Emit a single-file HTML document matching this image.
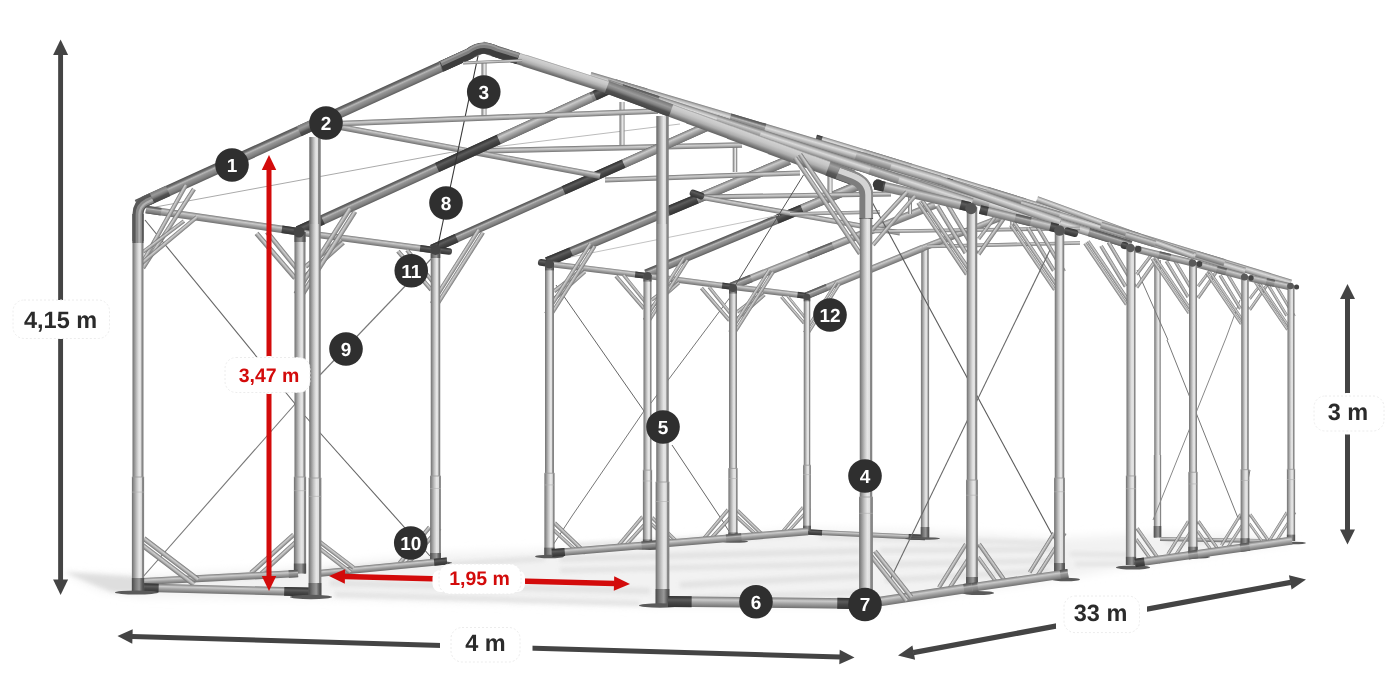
<!DOCTYPE html>
<html><head><meta charset="utf-8"><title>Tent frame dimensions</title>
<style>
html,body{margin:0;padding:0;background:#fff;}
body{width:1400px;height:700px;overflow:hidden;font-family:"Liberation Sans",sans-serif;}
svg{display:block}
svg text{text-rendering:geometricPrecision;font-family:"Liberation Sans",sans-serif;font-weight:bold;}
</style></head><body>
<svg width="1400" height="700" viewBox="0 0 1400 700">
<defs>
<linearGradient id="gD" x1="0" y1="0" x2="0" y2="1"><stop offset="0" stop-color="#505050"/><stop offset=".2" stop-color="#707070"/><stop offset=".36" stop-color="#b6b6b6"/><stop offset=".5" stop-color="#969696"/><stop offset=".8" stop-color="#7c7c7c"/><stop offset="1" stop-color="#5c5c5c"/></linearGradient>
<linearGradient id="gM" x1="0" y1="0" x2="0" y2="1"><stop offset="0" stop-color="#7a7a7a"/><stop offset=".3" stop-color="#cacaca"/><stop offset=".55" stop-color="#a6a6a6"/><stop offset="1" stop-color="#707070"/></linearGradient>
<linearGradient id="gL" x1="0" y1="0" x2="0" y2="1"><stop offset="0" stop-color="#7c7c7c"/><stop offset=".15" stop-color="#a8a8a8"/><stop offset=".36" stop-color="#e6e6e6"/><stop offset=".6" stop-color="#c6c6c6"/><stop offset=".85" stop-color="#9c9c9c"/><stop offset="1" stop-color="#747474"/></linearGradient>
<linearGradient id="gB" x1="0" y1="0" x2="0" y2="1"><stop offset="0" stop-color="#6e6e6e"/><stop offset=".35" stop-color="#cecece"/><stop offset=".6" stop-color="#b4b4b4"/><stop offset="1" stop-color="#727272"/></linearGradient>
<linearGradient id="gFR" x1="0" y1="0" x2="0" y2="1"><stop offset="0" stop-color="#989898"/><stop offset=".1" stop-color="#d0d0d0"/><stop offset=".35" stop-color="#c6c6c6"/><stop offset=".6" stop-color="#adadad"/><stop offset=".75" stop-color="#8c8c8c"/><stop offset=".9" stop-color="#707070"/><stop offset="1" stop-color="#666"/></linearGradient>
<linearGradient id="gFS" x1="0" y1="0" x2="0" y2="1"><stop offset="0" stop-color="#767676"/><stop offset=".3" stop-color="#9a9a9a"/><stop offset=".5" stop-color="#808080"/><stop offset=".7" stop-color="#525252"/><stop offset="1" stop-color="#454545"/></linearGradient>
<linearGradient id="gFS2" x1="0" y1="0" x2="0" y2="1"><stop offset="0" stop-color="#777"/><stop offset=".25" stop-color="#a0a0a0"/><stop offset=".5" stop-color="#858585"/><stop offset=".7" stop-color="#5a5a5a"/><stop offset="1" stop-color="#4c4c4c"/></linearGradient>
<linearGradient id="gU" x1="0" y1="0" x2="0" y2="1"><stop offset="0" stop-color="#7a7a7a"/><stop offset=".18" stop-color="#b4b4b4"/><stop offset=".4" stop-color="#dadada"/><stop offset=".65" stop-color="#b8b8b8"/><stop offset=".88" stop-color="#8e8e8e"/><stop offset="1" stop-color="#6c6c6c"/></linearGradient>
<linearGradient id="gS" x1="0" y1="0" x2="0" y2="1"><stop offset="0" stop-color="#2e2e2e"/><stop offset=".35" stop-color="#5c5c5c"/><stop offset=".6" stop-color="#474747"/><stop offset="1" stop-color="#333"/></linearGradient>
<linearGradient id="gP" x1="0" y1="0" x2="1" y2="0"><stop offset="0" stop-color="#6e6e6e"/><stop offset=".14" stop-color="#8e8e8e"/><stop offset=".4" stop-color="#c4c4c4"/><stop offset=".6" stop-color="#e6e6e6"/><stop offset=".78" stop-color="#dedede"/><stop offset=".84" stop-color="#8c8c8c"/><stop offset="1" stop-color="#7e7e7e"/></linearGradient>
<linearGradient id="gPd" x1="0" y1="0" x2="1" y2="0"><stop offset="0" stop-color="#4a4a4a"/><stop offset=".3" stop-color="#777"/><stop offset=".6" stop-color="#999"/><stop offset=".85" stop-color="#5a5a5a"/><stop offset="1" stop-color="#4a4a4a"/></linearGradient>
<filter id="blur" x="-20%" y="-50%" width="140%" height="200%"><feGaussianBlur stdDeviation="5"/></filter>
<filter id="blur2" x="-20%" y="-100%" width="140%" height="300%"><feGaussianBlur stdDeviation="2.2"/></filter>
</defs>
<g filter="url(#blur)">
<polygon points="64,573 138,576 300,568 436,554 548,550 808,529 925,531 1060,538 1160,533 1290,536 1292,543 1131,566 1068,578 870,606 660,606 320,598 140,597 100,590" fill="#f2f2f2"/>
</g>
<g filter="url(#blur2)" opacity=".9">
<polygon points="64,572 136,577 139,593 112,592" fill="#dcdcdc"/>
<polygon points="150,579 300,571 300,576 150,584" fill="#e0e0e0"/>
<polygon points="325,569 440,558 440,563 325,574" fill="#e0e0e0"/>
<polygon points="330,580 650,588 650,594 330,586" fill="#e0e0e0"/>
<polygon points="335,592 640,601 640,606 335,597" fill="#e0e0e0"/>
<polygon points="450,562 545,556 545,561 450,567" fill="#e0e0e0"/>
<polygon points="560,556 860,548 860,554 560,562" fill="#e0e0e0"/>
<polygon points="560,568 860,561 860,566 560,573" fill="#e0e0e0"/>
<polygon points="680,582 862,573 862,579 680,588" fill="#e0e0e0"/>
<polygon points="690,596 860,590 860,595 690,601" fill="#e0e0e0"/>
<polygon points="575,543 800,533 800,537 575,547" fill="#e0e0e0"/>
<polygon points="880,548 1055,547 1055,552 880,553" fill="#e0e0e0"/>
<polygon points="880,562 1055,558 1055,563 880,567" fill="#e0e0e0"/>
<polygon points="885,578 1050,568 1050,573 885,583" fill="#e0e0e0"/>
<polygon points="820,535 1050,541 1050,545 820,539" fill="#e0e0e0"/>
<polygon points="1070,552 1130,553 1130,557 1070,556" fill="#e0e0e0"/>
<polygon points="1075,562 1125,562 1125,566 1075,566" fill="#e0e0e0"/>
<polygon points="1165,541 1285,540 1285,543 1165,544" fill="#e0e0e0"/>
</g>
<rect x="1154.25" y="260" width="6.5" height="277.5" fill="url(#gP)"/>
<rect x="1153.85" y="455" width="7.3" height="82.5" fill="url(#gP)"/>
<rect x="1153.75" y="526" width="7.5" height="11.5" fill="url(#gPd)"/>
<rect y="-2" width="130.02" height="4" rx="0" fill="url(#gM)" transform="translate(1160 539) rotate(1.1)"/>
<line x1="1167" y1="340" x2="1238" y2="518" stroke="#777" stroke-width="1"/>
<line x1="1226" y1="338" x2="1153" y2="520" stroke="#888" stroke-width="1"/>
<line x1="1137" y1="270" x2="1168" y2="340" stroke="#777" stroke-width="1"/>
<line x1="1240" y1="300" x2="1226" y2="338" stroke="#888" stroke-width="1"/>
<line x1="1250" y1="470" x2="1240" y2="520" stroke="#777" stroke-width="1"/>
<rect y="-3.5" width="496.64" height="7" rx="0" fill="url(#gU)" transform="translate(816 138) rotate(16.98)"/>
<rect y="-3.5" width="312.25" height="7" rx="0" fill="url(#gU)" transform="translate(946 181) rotate(16.75)"/>
<rect y="-3" width="166.09" height="6" rx="0" fill="url(#gU)" transform="translate(1037 199) rotate(20.07)"/>
<rect y="-4.25" width="315.04" height="8.5" rx="0" fill="url(#gU)" transform="translate(830 152) rotate(17.17)"/>
<rect y="-3.5" width="5.96" height="7" rx="0" fill="url(#gS)" transform="translate(816 138) rotate(16.98)"/>
<rect y="-3.5" width="49.66" height="7" rx="0" fill="url(#gM)" transform="translate(863.5 152.5) rotate(16.98)"/>
<rect y="-3.5" width="39.73" height="7" rx="0" fill="url(#gM)" transform="translate(987 190.2) rotate(16.98)"/>
<rect y="-3.5" width="39.73" height="7" rx="0" fill="url(#gM)" transform="translate(1101 225) rotate(16.98)"/>
<rect y="-3.5" width="29.8" height="7" rx="0" fill="url(#gM)" transform="translate(1196 254) rotate(16.98)"/>
<rect y="-3.5" width="6.25" height="7" rx="0" fill="url(#gS)" transform="translate(946 181) rotate(16.75)"/>
<rect y="-3.5" width="40.59" height="7" rx="0" fill="url(#gM)" transform="translate(1020.75 203.5) rotate(16.75)"/>
<rect y="-3.5" width="31.23" height="7" rx="0" fill="url(#gM)" transform="translate(1125.4 235) rotate(16.75)"/>
<rect y="-4.25" width="37.8" height="8.5" rx="0" fill="url(#gM)" transform="translate(920.3 179.9) rotate(17.17)"/>
<rect y="-4.25" width="44.11" height="8.5" rx="0" fill="url(#gD)" transform="translate(1088.86 231.98) rotate(17.17)"/>
<rect y="-1.68" width="74.17" height="3.35" rx="0" fill="url(#gB)" transform="translate(1084.8 243.31) rotate(55.83)"/>
<rect y="-1.68" width="74.17" height="3.35" rx="0" fill="url(#gB)" transform="translate(1088.06 241.09) rotate(55.83)"/>
<rect y="-1.87" width="47.42" height="3.75" rx="0" fill="url(#gB)" transform="translate(1101 245.89) rotate(58.75)"/>
<rect y="-1.87" width="52.46" height="3.75" rx="0" fill="url(#gB)" transform="translate(1108.46 242.2) rotate(59.24)"/>
<rect y="-1.77" width="40.43" height="3.55" rx="0" fill="url(#gB)" transform="translate(1136.66 287.54) rotate(-54.93)"/>
<rect y="-1.58" width="24.72" height="3.15" rx="0" fill="url(#gB)" transform="translate(1136.66 274.43) rotate(-52.89)"/>
<rect y="-1.49" width="65.93" height="2.98" rx="0" fill="url(#gB)" transform="translate(1151.93 258.72) rotate(55.83)"/>
<rect y="-1.49" width="65.93" height="2.98" rx="0" fill="url(#gB)" transform="translate(1154.83 256.75) rotate(55.83)"/>
<rect y="-1.66" width="42.15" height="3.33" rx="0" fill="url(#gB)" transform="translate(1166.33 261.01) rotate(58.75)"/>
<rect y="-1.66" width="46.63" height="3.33" rx="0" fill="url(#gB)" transform="translate(1172.96 257.73) rotate(59.24)"/>
<rect y="-1.58" width="35.93" height="3.15" rx="0" fill="url(#gB)" transform="translate(1198.03 298.04) rotate(-54.93)"/>
<rect y="-1.4" width="21.97" height="2.8" rx="0" fill="url(#gB)" transform="translate(1198.03 286.38) rotate(-52.89)"/>
<rect y="-1.4" width="61.81" height="2.79" rx="0" fill="url(#gB)" transform="translate(1206.5 272.92) rotate(55.83)"/>
<rect y="-1.4" width="61.81" height="2.79" rx="0" fill="url(#gB)" transform="translate(1209.22 271.08) rotate(55.83)"/>
<rect y="-1.56" width="39.52" height="3.12" rx="0" fill="url(#gB)" transform="translate(1220 275.07) rotate(58.75)"/>
<rect y="-1.56" width="43.72" height="3.12" rx="0" fill="url(#gB)" transform="translate(1226.21 272) rotate(59.24)"/>
<rect y="-1.48" width="33.69" height="2.96" rx="0" fill="url(#gB)" transform="translate(1249.71 309.79) rotate(-54.93)"/>
<rect y="-1.31" width="20.6" height="2.63" rx="0" fill="url(#gB)" transform="translate(1249.71 298.86) rotate(-52.89)"/>
<rect y="-1.3" width="57.69" height="2.61" rx="0" fill="url(#gB)" transform="translate(1255.06 282.13) rotate(55.83)"/>
<rect y="-1.3" width="57.69" height="2.61" rx="0" fill="url(#gB)" transform="translate(1257.6 280.41) rotate(55.83)"/>
<rect y="-1.46" width="36.88" height="2.91" rx="0" fill="url(#gB)" transform="translate(1267.67 284.13) rotate(58.75)"/>
<rect y="-1.46" width="40.81" height="2.91" rx="0" fill="url(#gB)" transform="translate(1273.47 281.27) rotate(59.24)"/>
<rect y="-3.5" width="58.64" height="7" rx="0" fill="url(#gM)" transform="translate(1135 248.97) rotate(13.6)"/>
<rect y="-3.5" width="11.73" height="7" rx="0" fill="url(#gD)" transform="translate(1158.94 254.76) rotate(13.6)"/>
<rect y="-3.5" width="48.67" height="7" rx="0" fill="url(#gM)" transform="translate(1197 264.08) rotate(15.07)"/>
<rect y="-3.5" width="9.73" height="7" rx="0" fill="url(#gD)" transform="translate(1216.74 269.39) rotate(15.07)"/>
<rect y="-3.5" width="41.96" height="7" rx="0" fill="url(#gM)" transform="translate(1249 277.87) rotate(12.26)"/>
<rect y="-3.5" width="8.39" height="7" rx="0" fill="url(#gD)" transform="translate(1266.22 281.61) rotate(12.26)"/>
<rect y="-3.5" width="7.28" height="7" rx="3" fill="url(#gS)" transform="translate(1121 244.5) rotate(15.95)"/>
<rect y="-1.77" width="41.85" height="3.55" rx="0" fill="url(#gB)" transform="translate(1137 528.14) rotate(55.01)"/>
<rect y="-1.58" width="26.41" height="3.15" rx="0" fill="url(#gB)" transform="translate(1136.14 539.29) rotate(54.25)"/>
<rect x="1126.5" y="247" width="9" height="318" fill="url(#gP)"/>
<rect x="1125.9" y="475.96" width="10.2" height="89.04" fill="url(#gP)"/>
<line x1="1125.9" y1="475.96" x2="1136.1" y2="475.96" stroke="#9a9a9a" stroke-width="0.8"/>
<line x1="1125.9" y1="488.68" x2="1136.1" y2="488.68" stroke="#b0b0b0" stroke-width="0.6"/>
<rect x="1125.9" y="556.82" width="10.2" height="8.18" fill="url(#gPd)"/>
<circle cx="1130.5" cy="248" r="4.23" fill="#5a5a5a"/>
<circle cx="1138.2" cy="249" r="3.24" fill="#444"/>
<rect y="-1.58" width="39.01" height="3.15" rx="0" fill="url(#gB)" transform="translate(1167.86 554.38) rotate(-58.17)"/>
<rect y="-1.58" width="43.54" height="3.15" rx="0" fill="url(#gB)" transform="translate(1173.95 557.81) rotate(-57.14)"/>
<rect y="-1.58" width="37.2" height="3.15" rx="0" fill="url(#gB)" transform="translate(1198.33 521.24) rotate(55.01)"/>
<rect y="-1.4" width="23.47" height="2.8" rx="0" fill="url(#gB)" transform="translate(1197.57 531.14) rotate(54.25)"/>
<rect x="1189" y="262" width="8" height="292" fill="url(#gP)"/>
<rect x="1188.4" y="472.24" width="9.2" height="81.76" fill="url(#gP)"/>
<line x1="1188.4" y1="472.24" x2="1197.6" y2="472.24" stroke="#9a9a9a" stroke-width="0.8"/>
<line x1="1188.4" y1="483.92" x2="1197.6" y2="483.92" stroke="#b0b0b0" stroke-width="0.6"/>
<rect x="1188.4" y="546.73" width="9.2" height="7.27" fill="url(#gPd)"/>
<circle cx="1192.5" cy="263" r="3.76" fill="#5a5a5a"/>
<circle cx="1199.4" cy="264" r="2.88" fill="#444"/>
<rect y="-1.48" width="36.57" height="2.96" rx="0" fill="url(#gB)" transform="translate(1221.43 545.36) rotate(-58.17)"/>
<rect y="-1.48" width="40.81" height="2.96" rx="0" fill="url(#gB)" transform="translate(1227.14 548.57) rotate(-57.14)"/>
<rect y="-1.48" width="34.88" height="2.96" rx="0" fill="url(#gB)" transform="translate(1250 514.29) rotate(55.01)"/>
<rect y="-1.31" width="22" height="2.63" rx="0" fill="url(#gB)" transform="translate(1249.29 523.57) rotate(54.25)"/>
<rect x="1241.25" y="276" width="7.5" height="269" fill="url(#gP)"/>
<rect x="1240.65" y="469.68" width="8.7" height="75.32" fill="url(#gP)"/>
<line x1="1240.65" y1="469.68" x2="1249.35" y2="469.68" stroke="#9a9a9a" stroke-width="0.8"/>
<line x1="1240.65" y1="480.44" x2="1249.35" y2="480.44" stroke="#b0b0b0" stroke-width="0.6"/>
<rect x="1240.65" y="538.18" width="8.7" height="6.82" fill="url(#gPd)"/>
<circle cx="1244.5" cy="277" r="3.52" fill="#5a5a5a"/>
<circle cx="1251" cy="278" r="2.7" fill="#444"/>
<rect y="-1.38" width="34.13" height="2.76" rx="0" fill="url(#gB)" transform="translate(1269 541.33) rotate(-58.17)"/>
<rect y="-1.38" width="38.09" height="2.76" rx="0" fill="url(#gB)" transform="translate(1274.33 544.33) rotate(-57.14)"/>
<rect x="1287.5" y="285" width="7" height="256" fill="url(#gP)"/>
<rect x="1286.9" y="469.32" width="8.2" height="71.68" fill="url(#gP)"/>
<line x1="1286.9" y1="469.32" x2="1295.1" y2="469.32" stroke="#9a9a9a" stroke-width="0.8"/>
<line x1="1286.9" y1="479.56" x2="1295.1" y2="479.56" stroke="#b0b0b0" stroke-width="0.6"/>
<rect x="1286.9" y="534.64" width="8.2" height="6.36" fill="url(#gPd)"/>
<circle cx="1290.5" cy="286" r="3.29" fill="#5a5a5a"/>
<circle cx="1296.6" cy="287" r="2.52" fill="#444"/>
<ellipse cx="1133" cy="567.5" rx="17" ry="2" fill="#5a5a5a"/>
<ellipse cx="1195" cy="557" rx="15" ry="1.6" fill="#5a5a5a"/>
<ellipse cx="1248" cy="548" rx="14" ry="1.4" fill="#5a5a5a"/>
<ellipse cx="1294" cy="543" rx="12" ry="1.3" fill="#5a5a5a"/>
<rect y="-4" width="158.6" height="8" rx="0" fill="url(#gM)" transform="translate(1135 563) rotate(-8.16)"/>
<rect y="-4.25" width="9.52" height="8.5" rx="0" fill="url(#gS)" transform="translate(1135 563) rotate(-8.16)"/>
<rect y="-4.2" width="9.52" height="8.4" rx="0" fill="url(#gD)" transform="translate(1188.38 555.35) rotate(-8.16)"/>
<rect y="-4.2" width="9.52" height="8.4" rx="0" fill="url(#gD)" transform="translate(1240.19 547.92) rotate(-8.16)"/>
<rect y="-2.5" width="117.13" height="5" rx="0" fill="url(#gM)" transform="translate(808 532) rotate(2.69)"/>
<rect y="-2.75" width="14.06" height="5.5" rx="0" fill="url(#gS)" transform="translate(808 532) rotate(2.69)"/>
<rect y="-2.75" width="16.4" height="5.5" rx="0" fill="url(#gS)" transform="translate(908.62 536.73) rotate(2.69)"/>
<rect x="921.25" y="246" width="7.5" height="291.5" fill="url(#gP)"/>
<rect x="920.9" y="300" width="8.2" height="237.5" fill="url(#gP)"/>
<rect x="920.75" y="527" width="8.5" height="11" fill="url(#gPd)"/>
<ellipse cx="922.5" cy="538.5" rx="17.5" ry="1.3" fill="#5a5a5a"/>
<rect y="-3.5" width="126.46" height="7" rx="0" fill="url(#gM)" transform="translate(806 296) rotate(-22.31)"/>
<rect y="-3.5" width="22.76" height="7" rx="0" fill="url(#gD)" transform="translate(806 296) rotate(-22.31)"/>
<rect y="-3.25" width="82.64" height="6.5" rx="0" fill="url(#gM)" transform="translate(923 248) rotate(-21.29)"/>
<rect y="-3.9" width="219.68" height="7.8" rx="0" fill="url(#gM)" transform="translate(731 286.5) rotate(-21.78)"/>
<rect y="-3.9" width="21.97" height="7.8" rx="0" fill="url(#gD)" transform="translate(731 286.5) rotate(-21.78)"/>
<rect y="-3.9" width="26.36" height="7.8" rx="0" fill="url(#gD)" transform="translate(808.52 255.53) rotate(-21.78)"/>
<rect y="-4.5" width="228.62" height="9" rx="0" fill="url(#gD)" transform="translate(646 274) rotate(-22.64)"/>
<rect y="-4.5" width="27.43" height="9" rx="0" fill="url(#gS)" transform="translate(776.82 219.44) rotate(-22.64)"/>
<rect y="-4.5" width="59.44" height="9" rx="0" fill="url(#gM)" transform="translate(802.14 208.88) rotate(-22.64)"/>
<rect y="-4.75" width="262.62" height="9.5" rx="0" fill="url(#gD)" transform="translate(547 262) rotate(-22.85)"/>
<rect y="-4.75" width="26.26" height="9.5" rx="0" fill="url(#gS)" transform="translate(547 262) rotate(-22.85)"/>
<rect y="-4.75" width="31.51" height="9.5" rx="0" fill="url(#gS)" transform="translate(668 211) rotate(-22.85)"/>
<rect y="-4.75" width="99.79" height="9.5" rx="0" fill="url(#gM)" transform="translate(697.04 198.76) rotate(-22.85)"/>
<rect y="-2.4" width="191.02" height="4.8" rx="0" fill="url(#gB)" transform="translate(700 197) rotate(-0.9)"/>
<rect y="-2.6" width="203.21" height="5.2" rx="0" fill="url(#gB)" transform="translate(700 197) rotate(10.2)"/>
<rect y="-1.8" width="90.02" height="3.6" rx="0" fill="url(#gB)" transform="translate(790 214) rotate(-1.27)"/>
<rect y="-3.5" width="14.87" height="7" rx="3" fill="url(#gS)" transform="translate(690 192) rotate(19.65)"/>
<rect y="-1.8" width="208.02" height="3.6" rx="0" fill="url(#gB)" transform="translate(872 231.5) rotate(-0.83)"/>
<rect y="-1.8" width="153.04" height="3.6" rx="0" fill="url(#gB)" transform="translate(927 246.5) rotate(-1.31)"/>
<rect x="908" y="197" width="4" height="17" fill="url(#gP)"/>
<rect x="827.5" y="175" width="5" height="18" fill="url(#gP)"/>
<rect x="1010.25" y="214" width="3.5" height="15" fill="url(#gP)"/>
<line x1="571" y1="257" x2="780" y2="215" stroke="#bbb" stroke-width="0.9"/>
<line x1="803.5" y1="175" x2="733" y2="289" stroke="#555" stroke-width="1"/>
<rect y="-3.5" width="11.1" height="7" rx="3" fill="url(#gS)" transform="translate(538 262) rotate(7.77)"/>
<rect y="-3" width="95.71" height="6" rx="0" fill="url(#gM)" transform="translate(551.5 264.24) rotate(6.98)"/>
<rect y="-3" width="11.49" height="6" rx="0" fill="url(#gS)" transform="translate(635.1 274.48) rotate(6.98)"/>
<rect y="-3" width="83.18" height="6" rx="0" fill="url(#gM)" transform="translate(649.5 276.26) rotate(7.33)"/>
<rect y="-3" width="9.98" height="6" rx="0" fill="url(#gS)" transform="translate(722.1 285.6) rotate(7.33)"/>
<rect y="-3" width="71.52" height="6" rx="0" fill="url(#gM)" transform="translate(735 287.24) rotate(6.93)"/>
<rect y="-3" width="8.58" height="6" rx="0" fill="url(#gS)" transform="translate(797.48 294.84) rotate(6.93)"/>
<line x1="556" y1="285" x2="644" y2="411" stroke="#666" stroke-width="1"/>
<line x1="644" y1="411" x2="572" y2="516" stroke="#777" stroke-width="1"/>
<line x1="572" y1="516" x2="553" y2="545" stroke="#777" stroke-width="1"/>
<line x1="731" y1="296" x2="645" y2="411" stroke="#777" stroke-width="1"/>
<line x1="672" y1="445" x2="722" y2="520" stroke="#666" stroke-width="1"/>
<line x1="722" y1="520" x2="730" y2="533" stroke="#666" stroke-width="1"/>
<rect y="-1.95" width="36.64" height="3.91" rx="0" fill="url(#gB)" transform="translate(554 291.4) rotate(-37.68)"/>
<rect y="-1.84" width="41.31" height="3.68" rx="0" fill="url(#gB)" transform="translate(554 299) rotate(-41.37)"/>
<rect y="-1.95" width="82.95" height="3.91" rx="0" fill="url(#gB)" transform="translate(550.03 316.29) rotate(-57.56)"/>
<rect y="-1.95" width="82.95" height="3.91" rx="0" fill="url(#gB)" transform="translate(545.97 313.71) rotate(-57.56)"/>
<rect y="-2.01" width="43.14" height="4.02" rx="0" fill="url(#gB)" transform="translate(554.5 523) rotate(44.06)"/>
<rect y="-1.84" width="31.14" height="3.68" rx="0" fill="url(#gB)" transform="translate(553.5 530) rotate(42.4)"/>
<rect x="545" y="263" width="9" height="292" fill="url(#gP)"/>
<rect x="544.4" y="473.24" width="10.2" height="81.76" fill="url(#gP)"/>
<line x1="544.4" y1="473.24" x2="554.6" y2="473.24" stroke="#9a9a9a" stroke-width="0.8"/>
<line x1="544.4" y1="484.92" x2="554.6" y2="484.92" stroke="#b0b0b0" stroke-width="0.6"/>
<rect x="545" y="263" width="9" height="7.36" fill="url(#gPd)"/>
<rect x="544.4" y="547.64" width="10.2" height="7.36" fill="url(#gPd)"/>
<circle cx="549.5" cy="264" r="4.5" fill="#4a4a4a"/>
<rect y="-1.79" width="42.98" height="3.58" rx="0" fill="url(#gB)" transform="translate(615.86 275.98) rotate(49.19)"/>
<rect y="-1.69" width="36.59" height="3.37" rx="0" fill="url(#gB)" transform="translate(623.5 275) rotate(51.01)"/>
<rect y="-1.74" width="32.57" height="3.48" rx="0" fill="url(#gB)" transform="translate(651.5 300.24) rotate(-37.68)"/>
<rect y="-1.64" width="36.72" height="3.27" rx="0" fill="url(#gB)" transform="translate(651.5 307) rotate(-41.37)"/>
<rect y="-1.74" width="73.73" height="3.48" rx="0" fill="url(#gB)" transform="translate(647.97 322.37) rotate(-57.56)"/>
<rect y="-1.74" width="73.73" height="3.48" rx="0" fill="url(#gB)" transform="translate(644.37 320.08) rotate(-57.56)"/>
<rect y="-1.79" width="39.44" height="3.58" rx="0" fill="url(#gB)" transform="translate(617.28 546.89) rotate(-50.03)"/>
<rect y="-1.79" width="42.15" height="3.58" rx="0" fill="url(#gB)" transform="translate(622.61 548.67) rotate(-47.56)"/>
<rect y="-1.79" width="38.35" height="3.58" rx="0" fill="url(#gB)" transform="translate(651.94 517.56) rotate(44.06)"/>
<rect y="-1.64" width="27.68" height="3.27" rx="0" fill="url(#gB)" transform="translate(651.06 523.78) rotate(42.4)"/>
<rect x="643.5" y="275" width="8" height="271" fill="url(#gP)"/>
<rect x="642.9" y="470.12" width="9.2" height="75.88" fill="url(#gP)"/>
<line x1="642.9" y1="470.12" x2="652.1" y2="470.12" stroke="#9a9a9a" stroke-width="0.8"/>
<line x1="642.9" y1="480.96" x2="652.1" y2="480.96" stroke="#b0b0b0" stroke-width="0.6"/>
<rect x="643.5" y="275" width="8" height="6.55" fill="url(#gPd)"/>
<rect x="642.9" y="539.45" width="9.2" height="6.55" fill="url(#gPd)"/>
<circle cx="647.5" cy="276" r="4" fill="#4a4a4a"/>
<rect y="-1.79" width="42.98" height="3.58" rx="0" fill="url(#gB)" transform="translate(701.36 287.98) rotate(49.19)"/>
<rect y="-1.69" width="36.59" height="3.37" rx="0" fill="url(#gB)" transform="translate(709 287) rotate(51.01)"/>
<rect y="-1.74" width="32.57" height="3.48" rx="0" fill="url(#gB)" transform="translate(737 312.24) rotate(-37.68)"/>
<rect y="-1.64" width="36.72" height="3.27" rx="0" fill="url(#gB)" transform="translate(737 319) rotate(-41.37)"/>
<rect y="-1.74" width="73.73" height="3.48" rx="0" fill="url(#gB)" transform="translate(733.47 334.37) rotate(-57.56)"/>
<rect y="-1.74" width="73.73" height="3.48" rx="0" fill="url(#gB)" transform="translate(729.87 332.08) rotate(-57.56)"/>
<rect y="-1.79" width="39.44" height="3.58" rx="0" fill="url(#gB)" transform="translate(702.78 539.89) rotate(-50.03)"/>
<rect y="-1.79" width="42.15" height="3.58" rx="0" fill="url(#gB)" transform="translate(708.11 541.67) rotate(-47.56)"/>
<rect y="-1.79" width="38.35" height="3.58" rx="0" fill="url(#gB)" transform="translate(737.44 510.56) rotate(44.06)"/>
<rect y="-1.64" width="27.68" height="3.27" rx="0" fill="url(#gB)" transform="translate(736.56 516.78) rotate(42.4)"/>
<rect x="729" y="287" width="8" height="252" fill="url(#gP)"/>
<rect x="728.4" y="468.44" width="9.2" height="70.56" fill="url(#gP)"/>
<line x1="728.4" y1="468.44" x2="737.6" y2="468.44" stroke="#9a9a9a" stroke-width="0.8"/>
<line x1="728.4" y1="478.52" x2="737.6" y2="478.52" stroke="#b0b0b0" stroke-width="0.6"/>
<rect x="729" y="287" width="8" height="6.55" fill="url(#gPd)"/>
<rect x="728.4" y="532.45" width="9.2" height="6.55" fill="url(#gPd)"/>
<circle cx="733" cy="288" r="4" fill="#4a4a4a"/>
<rect y="-1.45" width="34.92" height="2.91" rx="0" fill="url(#gB)" transform="translate(781.29 296.79) rotate(49.19)"/>
<rect y="-1.37" width="29.73" height="2.74" rx="0" fill="url(#gB)" transform="translate(787.5 296) rotate(51.01)"/>
<rect y="-1.41" width="59.91" height="2.82" rx="0" fill="url(#gB)" transform="translate(807.38 334.49) rotate(-57.56)"/>
<rect y="-1.41" width="59.91" height="2.82" rx="0" fill="url(#gB)" transform="translate(804.45 332.63) rotate(-57.56)"/>
<rect y="-1.45" width="32.04" height="2.91" rx="0" fill="url(#gB)" transform="translate(782.44 531.72) rotate(-50.03)"/>
<rect y="-1.45" width="34.25" height="2.91" rx="0" fill="url(#gB)" transform="translate(786.78 533.17) rotate(-47.56)"/>
<rect x="803.75" y="296" width="6.5" height="235" fill="url(#gP)"/>
<rect x="803.15" y="465.2" width="7.7" height="65.8" fill="url(#gP)"/>
<line x1="803.15" y1="465.2" x2="810.85" y2="465.2" stroke="#9a9a9a" stroke-width="0.8"/>
<line x1="803.15" y1="474.6" x2="810.85" y2="474.6" stroke="#b0b0b0" stroke-width="0.6"/>
<rect x="803.75" y="296" width="6.5" height="5.32" fill="url(#gPd)"/>
<rect x="803.15" y="525.68" width="7.7" height="5.32" fill="url(#gPd)"/>
<circle cx="807" cy="297" r="3.25" fill="#4a4a4a"/>
<ellipse cx="549.5" cy="556.5" rx="14.5" ry="1.8" fill="#5a5a5a"/>
<ellipse cx="650" cy="548.5" rx="14" ry="1.5" fill="#5a5a5a"/>
<ellipse cx="735" cy="541.5" rx="13" ry="1.3" fill="#5a5a5a"/>
<rect y="-3.7" width="256.9" height="7.4" rx="0" fill="url(#gM)" transform="translate(552 553) rotate(-4.8)"/>
<rect y="-4" width="12.85" height="8" rx="0" fill="url(#gS)" transform="translate(552 553) rotate(-4.8)"/>
<rect y="-3.9" width="15.41" height="7.8" rx="0" fill="url(#gD)" transform="translate(641.6 545.48) rotate(-4.8)"/>
<rect y="-3.9" width="15.41" height="7.8" rx="0" fill="url(#gD)" transform="translate(726.08 538.38) rotate(-4.8)"/>
<line x1="150" y1="208" x2="450" y2="152.5" stroke="#aaa" stroke-width="1"/>
<line x1="450" y1="152.5" x2="680" y2="124" stroke="#bbb" stroke-width="1"/>
<rect x="732.75" y="147" width="4.5" height="25" fill="url(#gP)"/>
<rect y="-2.5" width="195.13" height="5" rx="0" fill="url(#gB)" transform="translate(605 180) rotate(-2.06)"/>
<rect x="619.5" y="102" width="5" height="45" fill="url(#gP)"/>
<rect y="-2.7" width="266.07" height="5.4" rx="0" fill="url(#gB)" transform="translate(476 151) rotate(-1.29)"/>
<rect y="-4.25" width="368.68" height="8.5" rx="0" fill="url(#gU)" transform="translate(706 122) rotate(16.22)"/>
<rect y="-4.25" width="36.87" height="8.5" rx="0" fill="url(#gM)" transform="translate(847.6 163.2) rotate(16.22)"/>
<rect y="-4.25" width="36.87" height="8.5" rx="0" fill="url(#gM)" transform="translate(953.8 194.1) rotate(16.22)"/>
<rect y="-4.5" width="299.93" height="9" rx="0" fill="url(#gD)" transform="translate(432 249) rotate(-24)"/>
<rect y="-4.5" width="26.99" height="9" rx="0" fill="url(#gS)" transform="translate(432 249) rotate(-24)"/>
<rect y="-4.5" width="65.99" height="9" rx="0" fill="url(#gS)" transform="translate(563.52 190.44) rotate(-24)"/>
<rect y="-4.5" width="89.98" height="9" rx="0" fill="url(#gM)" transform="translate(623.8 163.6) rotate(-24)"/>
<rect y="-3" width="269.68" height="6" rx="0" fill="url(#gM)" transform="translate(335 126) rotate(10.68)"/>
<rect y="-4.75" width="365.01" height="9.5" rx="0" fill="url(#gU)" transform="translate(590 76.6) rotate(16.49)"/>
<rect y="-4.5" width="128.11" height="9" rx="0" fill="url(#gU)" transform="translate(939 179.9) rotate(19.18)"/>
<rect y="-4.75" width="32.85" height="9.5" rx="0" fill="url(#gM)" transform="translate(614.5 83.85) rotate(16.49)"/>
<rect y="-4.75" width="36.5" height="9.5" rx="0" fill="url(#gD)" transform="translate(730 118.04) rotate(16.49)"/>
<rect y="-4.75" width="36.5" height="9.5" rx="0" fill="url(#gM)" transform="translate(856 155.34) rotate(16.49)"/>
<rect y="-4.75" width="383.91" height="9.5" rx="0" fill="url(#gU)" transform="translate(607 84) rotate(18.06)"/>
<rect y="-4.75" width="38.39" height="9.5" rx="0" fill="url(#gD)" transform="translate(621.6 88.76) rotate(18.06)"/>
<rect y="-4.75" width="46.07" height="9.5" rx="0" fill="url(#gM)" transform="translate(716.5 119.7) rotate(18.06)"/>
<rect y="-4.75" width="30.71" height="9.5" rx="0" fill="url(#gM)" transform="translate(869.8 169.68) rotate(18.06)"/>
<rect y="-5" width="339.65" height="10" rx="0" fill="url(#gD)" transform="translate(298 231) rotate(-24.53)"/>
<rect y="-5" width="27.17" height="10" rx="0" fill="url(#gS)" transform="translate(298 231) rotate(-24.53)"/>
<rect y="-5" width="67.93" height="10" rx="0" fill="url(#gS)" transform="translate(437.05 167.55) rotate(-24.53)"/>
<rect y="-5" width="13.59" height="10" rx="0" fill="url(#gS)" transform="translate(594.64 95.64) rotate(-24.53)"/>
<rect y="-5" width="101.89" height="10" rx="0" fill="url(#gM)" transform="translate(498.85 139.35) rotate(-24.53)"/>
<rect y="-3.75" width="152.59" height="7.5" rx="0" fill="url(#gM)" transform="translate(146 209.5) rotate(8.29)"/>
<rect y="-3.75" width="15.26" height="7.5" rx="0" fill="url(#gD)" transform="translate(146 209.5) rotate(8.29)"/>
<rect y="-3.75" width="15.26" height="7.5" rx="0" fill="url(#gS)" transform="translate(281.9 229.3) rotate(8.29)"/>
<rect y="-3.25" width="130.12" height="6.5" rx="0" fill="url(#gM)" transform="translate(304 233) rotate(7.51)"/>
<rect y="-3.25" width="13.01" height="6.5" rx="0" fill="url(#gS)" transform="translate(420.1 248.3) rotate(7.51)"/>
<rect y="-3.25" width="14.14" height="6.5" rx="3" fill="url(#gS)" transform="translate(438 250) rotate(8.13)"/>
<line x1="478" y1="56" x2="437" y2="250" stroke="#333" stroke-width="1.1"/>
<line x1="145" y1="220" x2="296" y2="405" stroke="#666" stroke-width="1.1"/>
<line x1="296" y1="403" x2="142" y2="578" stroke="#777" stroke-width="1.1"/>
<line x1="432" y1="258" x2="320" y2="375" stroke="#777" stroke-width="1.1"/>
<line x1="305" y1="416" x2="430" y2="556" stroke="#666" stroke-width="1.1"/>
<rect y="-2.12" width="51.04" height="4.25" rx="0" fill="url(#gB)" transform="translate(397.92 251.16) rotate(49.19)"/>
<rect y="-2" width="43.46" height="4.01" rx="0" fill="url(#gB)" transform="translate(407 250) rotate(51.01)"/>
<rect y="-2.06" width="87.56" height="4.13" rx="0" fill="url(#gB)" transform="translate(436.05 306.25) rotate(-57.56)"/>
<rect y="-2.06" width="87.56" height="4.13" rx="0" fill="url(#gB)" transform="translate(431.78 303.53) rotate(-57.56)"/>
<rect y="-2.12" width="46.83" height="4.25" rx="0" fill="url(#gB)" transform="translate(399.61 563.06) rotate(-50.03)"/>
<rect y="-2.12" width="50.06" height="4.25" rx="0" fill="url(#gB)" transform="translate(405.94 565.17) rotate(-47.56)"/>
<rect x="430.75" y="250" width="9.5" height="312" fill="url(#gP)"/>
<rect x="430.15" y="476" width="10.7" height="86" fill="url(#gP)"/>
<line x1="430.15" y1="476" x2="440.85" y2="476" stroke="#9a9a9a" stroke-width="0.8"/>
<line x1="430.15" y1="488.48" x2="440.85" y2="488.48" stroke="#b0b0b0" stroke-width="0.6"/>
<rect x="430.75" y="250" width="9.5" height="8" fill="url(#gPd)"/>
<rect x="430.15" y="553" width="10.7" height="9" fill="url(#gPd)"/>
<circle cx="435.5" cy="250" r="5" fill="#444"/>
<ellipse cx="438" cy="563" rx="14" ry="1.6" fill="#5a5a5a"/>
<rect y="-2.46" width="59.1" height="4.92" rx="0" fill="url(#gB)" transform="translate(256.49 233.34) rotate(49.19)"/>
<rect y="-2.32" width="50.32" height="4.64" rx="0" fill="url(#gB)" transform="translate(267 232) rotate(51.01)"/>
<rect y="-2.39" width="44.79" height="4.78" rx="0" fill="url(#gB)" transform="translate(305.5 266.71) rotate(-37.68)"/>
<rect y="-2.25" width="50.49" height="4.5" rx="0" fill="url(#gB)" transform="translate(305.5 276) rotate(-41.37)"/>
<rect y="-2.39" width="101.38" height="4.78" rx="0" fill="url(#gB)" transform="translate(300.64 297.13) rotate(-57.56)"/>
<rect y="-2.39" width="101.38" height="4.78" rx="0" fill="url(#gB)" transform="translate(295.69 293.98) rotate(-57.56)"/>
<rect y="-2.3" width="57.43" height="4.6" rx="0" fill="url(#gB)" transform="translate(251 573) rotate(-41.96)"/>
<rect y="-2.3" width="62.29" height="4.6" rx="0" fill="url(#gB)" transform="translate(258 576.6) rotate(-42.4)"/>
<rect x="294.5" y="232" width="11" height="341.5" fill="url(#gP)"/>
<rect x="293.9" y="477" width="12.2" height="96.5" fill="url(#gP)"/>
<line x1="293.9" y1="477" x2="306.1" y2="477" stroke="#9a9a9a" stroke-width="0.8"/>
<line x1="293.9" y1="490.66" x2="306.1" y2="490.66" stroke="#b0b0b0" stroke-width="0.6"/>
<rect x="294.5" y="232" width="11" height="10" fill="url(#gPd)"/>
<rect x="293.9" y="563.5" width="12.2" height="10" fill="url(#gPd)"/>
<circle cx="299" cy="232" r="5.5" fill="#444"/>
<rect y="-3.6" width="155.21" height="7.2" rx="0" fill="url(#gM)" transform="translate(143 581.5) rotate(-2.95)"/>
<rect y="-3.5" width="129.6" height="7" rx="0" fill="url(#gM)" transform="translate(318 573.5) rotate(-5.53)"/>
<rect y="-3.5" width="12.96" height="7" rx="0" fill="url(#gS)" transform="translate(434.1 562.25) rotate(-5.53)"/>
<rect y="-3.8" width="9.31" height="7.6" rx="0" fill="url(#gD)" transform="translate(288.7 573.98) rotate(-2.95)"/>
<rect y="-1.95" width="86.54" height="3.91" rx="0" fill="url(#gB)" transform="translate(918.1 202.69) rotate(55.83)"/>
<rect y="-1.95" width="86.54" height="3.91" rx="0" fill="url(#gB)" transform="translate(921.9 200.11) rotate(55.83)"/>
<rect y="-2.18" width="55.33" height="4.37" rx="0" fill="url(#gB)" transform="translate(937 205.7) rotate(58.75)"/>
<rect y="-2.18" width="61.21" height="4.37" rx="0" fill="url(#gB)" transform="translate(945.7 201.4) rotate(59.24)"/>
<rect y="-2.07" width="47.16" height="4.14" rx="0" fill="url(#gB)" transform="translate(978.6 254.3) rotate(-54.93)"/>
<rect y="-1.84" width="28.84" height="3.68" rx="0" fill="url(#gB)" transform="translate(978.6 239) rotate(-52.89)"/>
<rect y="-1.77" width="78.29" height="3.54" rx="0" fill="url(#gB)" transform="translate(1010.73 225.1) rotate(55.83)"/>
<rect y="-1.77" width="78.29" height="3.54" rx="0" fill="url(#gB)" transform="translate(1014.17 222.76) rotate(55.83)"/>
<rect y="-1.98" width="50.06" height="3.95" rx="0" fill="url(#gB)" transform="translate(1027.83 227.82) rotate(58.75)"/>
<rect y="-1.98" width="55.38" height="3.95" rx="0" fill="url(#gB)" transform="translate(1035.7 223.93) rotate(59.24)"/>
<rect y="-5" width="97.63" height="10" rx="0" fill="url(#gM)" transform="translate(875 184.5) rotate(13.32)"/>
<rect y="-5.25" width="9.76" height="10.5" rx="0" fill="url(#gS)" transform="translate(875 184.5) rotate(13.32)"/>
<rect y="-5" width="9.76" height="10" rx="0" fill="url(#gS)" transform="translate(960.5 204.75) rotate(13.32)"/>
<rect y="-4.4" width="80.28" height="8.8" rx="0" fill="url(#gM)" transform="translate(980 209.5) rotate(13.69)"/>
<rect y="-4.5" width="8.03" height="9" rx="0" fill="url(#gS)" transform="translate(980 209.5) rotate(13.69)"/>
<rect y="-4.4" width="16.06" height="8.8" rx="0" fill="url(#gD)" transform="translate(1015.1 218.05) rotate(13.69)"/>
<rect y="-4.4" width="8.03" height="8.8" rx="0" fill="url(#gS)" transform="translate(1050.2 226.6) rotate(13.69)"/>
<rect y="-3.75" width="14.43" height="7.5" rx="3" fill="url(#gS)" transform="translate(1064 230.5) rotate(14.04)"/>
<line x1="871" y1="200" x2="1055" y2="540" stroke="#5a5a5a" stroke-width="1.1"/>
<line x1="1050" y1="250" x2="890" y2="580" stroke="#6a6a6a" stroke-width="1.1"/>
<rect y="-1.87" width="46.32" height="3.75" rx="0" fill="url(#gB)" transform="translate(1029.64 572.45) rotate(-58.17)"/>
<rect y="-1.87" width="51.7" height="3.75" rx="0" fill="url(#gB)" transform="translate(1036.88 576.52) rotate(-57.14)"/>
<rect x="1054.75" y="229" width="9.5" height="343" fill="url(#gP)"/>
<rect x="1054.15" y="478" width="10.7" height="94" fill="url(#gP)"/>
<line x1="1054.15" y1="478" x2="1064.85" y2="478" stroke="#9a9a9a" stroke-width="0.8"/>
<line x1="1054.15" y1="491.72" x2="1064.85" y2="491.72" stroke="#b0b0b0" stroke-width="0.6"/>
<rect x="1054.15" y="563" width="10.7" height="9" fill="url(#gPd)"/>
<circle cx="1059.5" cy="230.5" r="5.2" fill="#555"/>
<ellipse cx="1066" cy="579.5" rx="14" ry="1.8" fill="#5a5a5a"/>
<rect y="-2.07" width="51.2" height="4.14" rx="0" fill="url(#gB)" transform="translate(939 587.5) rotate(-58.17)"/>
<rect y="-2.07" width="57.14" height="4.14" rx="0" fill="url(#gB)" transform="translate(947 592) rotate(-57.14)"/>
<rect y="-2.07" width="48.83" height="4.14" rx="0" fill="url(#gB)" transform="translate(979 544) rotate(55.01)"/>
<rect y="-1.84" width="30.81" height="3.68" rx="0" fill="url(#gB)" transform="translate(978 557) rotate(54.25)"/>
<rect x="966.75" y="207" width="10.5" height="380" fill="url(#gP)"/>
<rect x="966.15" y="480" width="11.7" height="107" fill="url(#gP)"/>
<line x1="966.15" y1="480" x2="977.85" y2="480" stroke="#9a9a9a" stroke-width="0.8"/>
<line x1="966.15" y1="495.2" x2="977.85" y2="495.2" stroke="#b0b0b0" stroke-width="0.6"/>
<rect x="966.15" y="577" width="11.7" height="10" fill="url(#gPd)"/>
<circle cx="971" cy="208.5" r="5.8" fill="#555"/>
<ellipse cx="978" cy="593" rx="16" ry="2" fill="#5a5a5a"/>
<rect y="-4.8" width="103.17" height="9.6" rx="0" fill="url(#gM)" transform="translate(870 603) rotate(-8.64)"/>
<rect y="-4.4" width="97.02" height="8.8" rx="0" fill="url(#gM)" transform="translate(972 587.5) rotate(-8.3)"/>
<rect y="-4.9" width="8.25" height="9.8" rx="0" fill="url(#gD)" transform="translate(963.84 588.74) rotate(-8.64)"/>
<rect y="-4.6" width="5.82" height="9.2" rx="0" fill="url(#gD)" transform="translate(972 587.5) rotate(-8.3)"/>
<rect y="-4.6" width="7.76" height="9.2" rx="0" fill="url(#gD)" transform="translate(1060.32 574.62) rotate(-8.3)"/>
<rect x="481.5" y="62" width="5" height="56" fill="url(#gP)"/>
<rect y="-2.8" width="328.26" height="5.6" rx="0" fill="url(#gB)" transform="translate(330 124) rotate(-2.27)"/>
<rect y="-5.5" width="379.04" height="11" rx="0" fill="url(#gD)" transform="translate(137 205) rotate(-24.47)"/>
<rect y="-5.5" width="26.53" height="11" rx="0" fill="url(#gFS)" transform="translate(143.9 201.86) rotate(-24.47)"/>
<rect y="-5.5" width="34.11" height="11" rx="0" fill="url(#gFS)" transform="translate(299.15 131.21) rotate(-24.47)"/>
<rect y="-5.5" width="34.11" height="11" rx="0" fill="url(#gFS)" transform="translate(440.6 66.84) rotate(-24.47)"/>
<rect y="-5.84" width="45.24" height="11.68" rx="0" fill="url(#gFR)" transform="translate(482 47) rotate(17.73)"/>
<rect y="-6.03" width="45.24" height="12.05" rx="0" fill="url(#gFR)" transform="translate(524.33 60.53) rotate(17.73)"/>
<rect y="-6.21" width="45.24" height="12.42" rx="0" fill="url(#gFR)" transform="translate(566.67 74.07) rotate(17.73)"/>
<rect y="-6.4" width="45.08" height="12.8" rx="0" fill="url(#gFR)" transform="translate(607 87) rotate(20.21)"/>
<rect y="-6.6" width="45.08" height="13.2" rx="0" fill="url(#gFR)" transform="translate(647.83 102.03) rotate(20.21)"/>
<rect y="-6.8" width="45.08" height="13.6" rx="0" fill="url(#gFR)" transform="translate(688.67 117.07) rotate(20.21)"/>
<rect y="-7" width="45.08" height="14" rx="0" fill="url(#gFR)" transform="translate(729.5 132.1) rotate(20.21)"/>
<rect y="-7.2" width="45.08" height="14.4" rx="0" fill="url(#gFR)" transform="translate(770.33 147.13) rotate(20.21)"/>
<rect y="-7.4" width="45.08" height="14.8" rx="0" fill="url(#gFR)" transform="translate(811.17 162.17) rotate(20.21)"/>
<rect y="-5.85" width="26.25" height="11.7" rx="0" fill="url(#gFS)" transform="translate(493 50.5) rotate(17.74)"/>
<rect y="-6.45" width="68.21" height="12.9" rx="0" fill="url(#gFS)" transform="translate(607 87) rotate(20.24)"/>
<rect y="-7.5" width="25.56" height="15" rx="0" fill="url(#gFS2)" transform="translate(828 168.4) rotate(20.14)"/>
<path d="M441.5,66.5 L469,54 Q482,43.5 497,52 L518,58.5" fill="none" stroke="#3d3d3d" stroke-width="11"/>
<path d="M441,63.6 L468,51.2 Q482,40.6 498,49.2 L519,55.6" fill="none" stroke="#808080" stroke-width="5.2"/>
<path d="M441,62.4 L468,50 Q482,39.4 498,48 L519,54.4" fill="none" stroke="#9c9c9c" stroke-width="1.6"/>
<rect y="-1.5" width="59.05" height="3" rx="0" fill="url(#gB)" transform="translate(463 63) rotate(-2.43)"/>
<rect y="-2.15" width="104.32" height="4.3" rx="0" fill="url(#gB)" transform="translate(135 276) rotate(-60.73)"/>
<rect y="-2.15" width="94.03" height="4.3" rx="0" fill="url(#gB)" transform="translate(143 268) rotate(-57.15)"/>
<rect y="-2.1" width="70.29" height="4.2" rx="0" fill="url(#gB)" transform="translate(143 262) rotate(-39.81)"/>
<rect y="-1.8" width="51.4" height="3.6" rx="0" fill="url(#gB)" transform="translate(143 252) rotate(-37.09)"/>
<rect y="-2.5" width="67.8" height="5" rx="0" fill="url(#gB)" transform="translate(140.13 543.47) rotate(37.21)"/>
<rect y="-2.5" width="67.8" height="5" rx="0" fill="url(#gB)" transform="translate(143.87 538.53) rotate(37.21)"/>
<rect y="-4.2" width="172.06" height="8.4" rx="0" fill="url(#gM)" transform="translate(138 587.5) rotate(1.5)"/>
<rect y="-4.4" width="20.65" height="8.8" rx="0" fill="url(#gS)" transform="translate(138 587.5) rotate(1.5)"/>
<rect y="-4.4" width="25.81" height="8.8" rx="0" fill="url(#gS)" transform="translate(284.2 591.33) rotate(1.5)"/>
<rect y="-2.1" width="42.8" height="4.2" rx="0" fill="url(#gB)" transform="translate(316.33 546.18) rotate(37.41)"/>
<rect y="-2.1" width="42.8" height="4.2" rx="0" fill="url(#gB)" transform="translate(319.67 541.82) rotate(37.41)"/>
<rect x="132.5" y="214" width="11" height="377" fill="url(#gP)"/>
<rect x="131.9" y="477" width="12.2" height="114" fill="url(#gP)"/>
<line x1="131.9" y1="477" x2="144.1" y2="477" stroke="#9a9a9a" stroke-width="0.8"/>
<line x1="131.9" y1="492.08" x2="144.1" y2="492.08" stroke="#b0b0b0" stroke-width="0.6"/>
<rect x="132.5" y="214" width="11" height="27" fill="url(#gPd)"/>
<rect x="131.9" y="578" width="12.2" height="13" fill="url(#gPd)"/>
<path d="M138,243 L138,214 Q138,205 146,201 L152,198.3" fill="none" stroke="#585858" stroke-width="11"/>
<path d="M138.8,243 L138.8,214.5 Q138.8,206 146.6,202 L152.5,199.3" fill="none" stroke="#8a8a8a" stroke-width="6.4"/>
<path d="M139.4,243 L139.4,214.6 Q139.6,206.4 147,202.4 L152.6,199.8" fill="none" stroke="#b2b2b2" stroke-width="2.2"/>
<ellipse cx="136.5" cy="592.5" rx="21.5" ry="2" fill="#5a5a5a"/>
<rect x="309.25" y="137" width="11.5" height="459" fill="url(#gP)"/>
<rect x="308.65" y="478" width="12.7" height="118" fill="url(#gP)"/>
<line x1="308.65" y1="478" x2="321.35" y2="478" stroke="#9a9a9a" stroke-width="0.8"/>
<line x1="308.65" y1="496.36" x2="321.35" y2="496.36" stroke="#b0b0b0" stroke-width="0.6"/>
<rect x="308.65" y="583" width="12.7" height="13" fill="url(#gPd)"/>
<rect x="310" y="137" width="10" height="87" fill="url(#gP)"/>
<ellipse cx="311" cy="597" rx="21" ry="2.2" fill="#5a5a5a"/>
<rect x="656.25" y="116" width="12.5" height="488" fill="url(#gP)"/>
<rect x="655.65" y="482" width="13.7" height="122" fill="url(#gP)"/>
<line x1="655.65" y1="482" x2="669.35" y2="482" stroke="#9a9a9a" stroke-width="0.8"/>
<line x1="655.65" y1="501.52" x2="669.35" y2="501.52" stroke="#b0b0b0" stroke-width="0.6"/>
<rect x="655.65" y="589" width="13.7" height="15" fill="url(#gPd)"/>
<rect x="657.25" y="116" width="10.5" height="108" fill="url(#gP)"/>
<ellipse cx="660" cy="605.5" rx="21" ry="2.2" fill="#5a5a5a"/>
<rect y="-5.25" width="182.01" height="10.5" rx="0" fill="url(#gM)" transform="translate(668 601.5) rotate(0.63)"/>
<rect y="-5.5" width="23.66" height="11" rx="0" fill="url(#gS)" transform="translate(668 601.5) rotate(0.63)"/>
<rect y="-5.5" width="12.74" height="11" rx="0" fill="url(#gS)" transform="translate(837.26 603.36) rotate(0.63)"/>
<rect y="-2.3" width="115.94" height="4.6" rx="0" fill="url(#gB)" transform="translate(795.02 157.68) rotate(55.9)"/>
<rect y="-2.3" width="115.94" height="4.6" rx="0" fill="url(#gB)" transform="translate(799.98 154.32) rotate(55.9)"/>
<rect y="-2.2" width="51.66" height="4.4" rx="0" fill="url(#gB)" transform="translate(872 230) rotate(-47.35)"/>
<rect y="-2.1" width="64.54" height="4.2" rx="0" fill="url(#gB)" transform="translate(873 245) rotate(-49.4)"/>
<rect y="-2.3" width="58.72" height="4.6" rx="0" fill="url(#gB)" transform="translate(870.15 554.86) rotate(51.57)"/>
<rect y="-2.3" width="58.72" height="4.6" rx="0" fill="url(#gB)" transform="translate(874.85 551.14) rotate(51.57)"/>
<rect x="859.75" y="198" width="12.5" height="408" fill="url(#gP)"/>
<rect x="859.15" y="497" width="13.7" height="109" fill="url(#gP)"/>
<line x1="859.15" y1="497" x2="872.85" y2="497" stroke="#9a9a9a" stroke-width="0.8"/>
<line x1="859.15" y1="513.32" x2="872.85" y2="513.32" stroke="#b0b0b0" stroke-width="0.6"/>
<path d="M838,172.2 L852,177.3 Q866.3,182.5 866.3,195 L866.3,219" fill="none" stroke="#7d7d7d" stroke-width="13.5"/>
<path d="M839,170.5 L853,175.6 Q868.3,181.5 868.3,195 L868.3,219" fill="none" stroke="#d4d4d4" stroke-width="6"/>
<path d="M840,167.2 L854,172.3 Q872,178.5 872.2,195 L872.2,219" fill="none" stroke="#8c8c8c" stroke-width="1.4"/>
<rect x="859.55" y="218" width="13.5" height="1" fill="url(#gPd)"/>
<circle cx="878" cy="184.5" r="5.2" fill="#3a3a3a"/>
<g opacity="0.999">
<line x1="60.6" y1="54.4" x2="60.6" y2="580" stroke="#444" stroke-width="4.9"/>
<polygon points="60.6,39.4 53.1,54.9 68.1,54.9" fill="#444"/>
<polygon points="60.6,595 53.1,579.5 68.1,579.5" fill="#444"/>
<rect x="50" y="300" width="22" height="39" rx="8" fill="#fff"/>
<rect x="13" y="300" width="96.5" height="38.5" rx="11" fill="#fff" stroke="#ececec" stroke-width="1" stroke-dasharray="2 2"/>
<text x="60.6" y="328" font-size="23.5" text-anchor="middle" fill="#2b2b2b">4,15 m</text>
<line x1="131.99" y1="636.42" x2="840.01" y2="657.08" stroke="#444" stroke-width="5"/>
<polygon points="117.5,636 132.28,643.68 132.71,629.19" fill="#444"/>
<polygon points="854.5,657.5 839.29,664.31 839.72,649.82" fill="#444"/>
<rect x="440" y="630" width="92.5" height="34" rx="8" fill="#fff"/>
<rect x="451" y="627.5" width="69" height="34.5" rx="11" fill="#fff" stroke="#ececec" stroke-width="1" stroke-dasharray="2 2"/>
<text x="485.5" y="651" font-size="23.5" text-anchor="middle" fill="#2b2b2b">4 m</text>
<line x1="913.24" y1="652.66" x2="1290.76" y2="582.34" stroke="#444" stroke-width="5.2"/>
<polygon points="898,655.5 915.06,659.7 912.4,645.44" fill="#444"/>
<polygon points="1306,579.5 1291.6,589.56 1288.94,575.3" fill="#444"/>
<rect x="1056" y="598" width="91" height="38" rx="8" fill="#fff"/>
<rect x="1064" y="596" width="75.5" height="36.6" rx="11" fill="#fff" stroke="#ececec" stroke-width="1" stroke-dasharray="2 2"/>
<text x="1100.6" y="621" font-size="23.5" text-anchor="middle" fill="#2b2b2b">33 m</text>
<line x1="1347.5" y1="298.5" x2="1347.5" y2="530" stroke="#444" stroke-width="5"/>
<polygon points="1347.5,284 1340,299 1355,299" fill="#444"/>
<polygon points="1347.5,544.5 1340,529.5 1355,529.5" fill="#444"/>
<rect x="1338" y="393" width="20" height="41.5" rx="8" fill="#fff"/>
<rect x="1314" y="396" width="70" height="35" rx="11" fill="#fff" stroke="#ececec" stroke-width="1" stroke-dasharray="2 2"/>
<text x="1348" y="420" font-size="23.5" text-anchor="middle" fill="#2b2b2b">3 m</text>
<line x1="269" y1="169.5" x2="269" y2="576.5" stroke="#d30b0b" stroke-width="5"/>
<polygon points="269,155 261.75,170 276.25,170" fill="#d30b0b"/>
<polygon points="269,591 261.75,576 276.25,576" fill="#d30b0b"/>
<rect x="260" y="356" width="18" height="38" rx="8" fill="#fff"/>
<rect x="225" y="357.5" width="85" height="35" rx="11" fill="#fff" stroke="#ececec" stroke-width="1" stroke-dasharray="2 2"/>
<text x="269" y="382" font-size="19.5" text-anchor="middle" fill="#d30b0b">3,47 m</text>
<line x1="344.49" y1="576.41" x2="614.51" y2="583.59" stroke="#d30b0b" stroke-width="5.5"/>
<polygon points="329,576 344.8,583.67 345.19,569.18" fill="#d30b0b"/>
<polygon points="630,584 613.81,590.82 614.2,576.33" fill="#d30b0b"/>
<rect x="432.5" y="570" width="92.5" height="22" rx="8" fill="#fff"/>
<rect x="439" y="564" width="82" height="30" rx="11" fill="#fff" stroke="#ececec" stroke-width="1" stroke-dasharray="2 2"/>
<text x="479.5" y="585" font-size="19.5" text-anchor="middle" fill="#d30b0b">1,95 m</text>
<circle cx="232" cy="165" r="16.8" fill="#2f2f2f"/>
<text x="232" y="171.8" font-size="19" text-anchor="middle" fill="#fff">1</text>
<circle cx="326" cy="123" r="16.8" fill="#2f2f2f"/>
<text x="326" y="129.8" font-size="19" text-anchor="middle" fill="#fff">2</text>
<circle cx="483.75" cy="92" r="16.8" fill="#2f2f2f"/>
<text x="483.75" y="98.8" font-size="19" text-anchor="middle" fill="#fff">3</text>
<circle cx="865" cy="476" r="16.8" fill="#2f2f2f"/>
<text x="865" y="482.8" font-size="19" text-anchor="middle" fill="#fff">4</text>
<circle cx="663" cy="427" r="16.8" fill="#2f2f2f"/>
<text x="663" y="433.8" font-size="19" text-anchor="middle" fill="#fff">5</text>
<circle cx="756" cy="601.75" r="16.8" fill="#2f2f2f"/>
<text x="756" y="608.55" font-size="19" text-anchor="middle" fill="#fff">6</text>
<circle cx="865" cy="604.5" r="16.8" fill="#2f2f2f"/>
<text x="865" y="611.3" font-size="19" text-anchor="middle" fill="#fff">7</text>
<circle cx="446" cy="203" r="16.8" fill="#2f2f2f"/>
<text x="446" y="209.8" font-size="19" text-anchor="middle" fill="#fff">8</text>
<circle cx="346" cy="349" r="16.8" fill="#2f2f2f"/>
<text x="346" y="355.8" font-size="19" text-anchor="middle" fill="#fff">9</text>
<circle cx="410.75" cy="543" r="16.8" fill="#2f2f2f"/>
<text x="410.75" y="549.8" font-size="19" text-anchor="middle" fill="#fff">10</text>
<circle cx="411.25" cy="270.75" r="16.8" fill="#2f2f2f"/>
<text x="411.25" y="277.55" font-size="19" text-anchor="middle" fill="#fff">11</text>
<circle cx="830" cy="315" r="16.8" fill="#2f2f2f"/>
<text x="830" y="321.8" font-size="19" text-anchor="middle" fill="#fff">12</text>
</g>
</svg>
</body></html>
